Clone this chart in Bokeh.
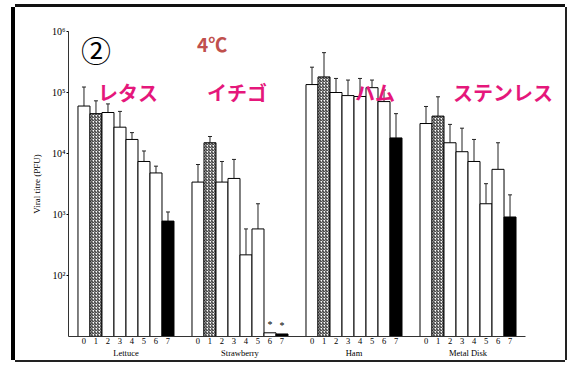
from bokeh.plotting import figure
from bokeh.models import (FactorRange, Range1d, FixedTicker, CustomJSTickFormatter,
                          Whisker, TeeHead, ColumnDataSource, Label)
from bokeh.core.properties import value
from bokeh.embed import file_html
from bokeh.resources import INLINE

groups = ["Lettuce", "Strawberry", "Ham", "Metal Disk"]
days = ["0", "1", "2", "3", "4", "5", "6", "7"]

lettuce = [6.0e4, 4.5e4, 4.7e4, 2.7e4, 1.7e4, 7.4e3, 4.8e3, 780]
lettuce_err = [1.23e5, 7.3e4, 6.5e4, 4.9e4, 2.2e4, 1.1e4, 6.2e3, 1.1e3]
strawberry = [3.4e3, 1.5e4, 3.4e3, 3.9e3, 218, 580, 11.5, 11]
strawberry_err = [6.6e3, 1.9e4, 7.4e3, 8.0e3, 580, 1.5e3, None, None]
ham = [1.35e5, 1.8e5, 1.0e5, 8.9e4, 8.6e4, 1.2e5, 7.1e4, 1.8e4]
ham_err = [2.6e5, 4.5e5, 1.7e5, 1.6e5, 1.7e5, 1.6e5, 1.1e5, 4.5e4]
metal = [3.1e4, 4.1e4, 1.5e4, 1.07e4, 7.4e3, 1.5e3, 5.5e3, 910]
metal_err = [5.9e4, 8.5e4, 3.0e4, 2.6e4, 1.7e4, 3.2e3, 1.5e4, 2.1e3]

ytick_vals = [1e2, 1e3, 1e4, 1e5, 1e6]
ytick_labels = ["10²", "10³", "10⁴", "10⁵", "10⁶"]

jp_labels = ["レタス", "イチゴ", "ハム", "ステンレス"]
star_days = ["6", "7"]

series = [lettuce, strawberry, ham, metal]
errors = [lettuce_err, strawberry_err, ham_err, metal_err]

GROUP_PAD = 1.5
PAD = 0.79

factors = [(g, d) for g in groups for d in days]
# blank spacer factor on the right so that the labels have room inside the frame
spacer = [(" ", " ")]
tops = [v for s in series for v in s]
fills = ["black" if d == "7" else "white" for g in groups for d in days]
hatches = ["/" if d == "1" else " " for g in groups for d in days]

def center(g, d):
    # synthetic coordinate of a nested factor on the FactorRange
    return groups.index(g) * (len(days) + GROUP_PAD) + days.index(d) + 0.5

data_end = len(groups) * len(days) + (len(groups) - 1) * GROUP_PAD

err_x, err_lo, err_hi = [], [], []
for g, s, e in zip(groups, series, errors):
    for d, v, ev in zip(days, s, e):
        if ev is not None:
            err_x.append((g, d))
            err_lo.append(v)
            err_hi.append(ev)

p = figure(x_range=FactorRange(*(factors + spacer), group_padding=GROUP_PAD,
                               range_padding=PAD, range_padding_units="absolute"),
           y_range=Range1d(10, 1e6), y_axis_type="log",
           width=550, height=353, output_backend="svg", toolbar_location=None,
           min_border_left=53, min_border_right=10, min_border_top=24,
           min_border_bottom=23)
p.styles = {"margin-left": "15px", "margin-top": "7px",
            "box-shadow": "-4px 0 0 0 #000000, 0 -3px 0 0 #111111, "
                          "2px 0 0 0 #222222, 0 2px 0 0 #222222"}
p.border_fill_color = "white"
p.background_fill_color = "white"

src = ColumnDataSource(dict(x=factors, top=tops, fill=fills, hatch=hatches))
p.vbar(x="x", top="top", bottom=10, width=1.0, source=src, fill_color="fill",
       line_color="black", line_width=1, hatch_pattern="hatch", hatch_color="black",
       hatch_scale=3, hatch_weight=0.9)

esrc = ColumnDataSource(dict(x=err_x, lo=err_lo, hi=err_hi))
w = Whisker(source=esrc, base="x", lower="lo", upper="hi", dimension="height",
            line_color="#222222", line_width=1, lower_head=None,
            upper_head=TeeHead(size=4, line_color="#222222", line_width=1))
p.add_layout(w)

sx = [("Strawberry", d) for d in star_days]
sy = [strawberry[days.index(d)] for d in star_days]
p.text(x=sx, y=sy, text=["*"] * len(sx), text_align="center", text_baseline="bottom",
       y_offset=-3, text_font=value("Liberation Serif"), text_font_size="10px",
       text_color="black")

anchors = [("Lettuce", "1"), ("Strawberry", "1"), ("Ham", "4"), ("Metal Disk", "2")]
offsets = [2, -3, -5, 3]
for txt, anc, off in zip(jp_labels, anchors, offsets):
    p.add_layout(Label(x=center(*anc), y=1e5, text=txt, x_offset=off, text_align="left",
                       text_baseline="middle", text_font="Noto Sans CJK JP",
                       text_font_style="bold", text_font_size="20px",
                       text_color="#e5177b"))

p.add_layout(Label(x=center("Lettuce", "0"), y=5.2e5, text="②", x_offset=-3,
                   text_align="left", text_baseline="middle",
                   text_font="Noto Sans CJK JP", text_font_size="30px",
                   text_color="black"))
p.add_layout(Label(x=center("Strawberry", "0"), y=6.3e5, text="4℃", x_offset=-1,
                   text_align="left", text_baseline="middle",
                   text_font="Noto Sans CJK JP", text_font_style="bold",
                   text_font_size="19px", text_color="#c0504d"))

p.xgrid.grid_line_color = None
p.ygrid.grid_line_color = None
p.outline_line_color = None

ya = p.yaxis[0]
ya.ticker = FixedTicker(ticks=ytick_vals)
ya.formatter = CustomJSTickFormatter(args=dict(vals=ytick_vals, labs=ytick_labels), code="""
const i = vals.findIndex(v => Math.abs(v - tick) < 1e-6 * v);
return i >= 0 ? labs[i] : '';
""")
ya.minor_tick_line_color = None
ya.major_tick_out = 2
ya.major_tick_in = 0
ya.major_label_standoff = 1
ya.major_label_text_font = "Liberation Serif"
ya.major_label_text_font_size = "10px"
ya.major_label_text_color = "black"
ya.axis_label = "Viral titre (PFU)"
ya.axis_label_text_font = "Liberation Serif"
ya.axis_label_text_font_style = "normal"
ya.axis_label_text_font_size = "9px"
ya.axis_label_text_color = "black"
ya.axis_label_standoff = 7
ya.axis_line_color = "#333333"

xa = p.xaxis[0]
xa.bounds = (-PAD, data_end + PAD)
xa.major_tick_line_color = None
xa.major_tick_out = 0
xa.major_tick_in = 0
xa.major_label_standoff = 1
xa.major_label_text_font = "Liberation Serif"
xa.major_label_text_font_size = "8.5px"
xa.major_label_text_color = "black"
xa.group_text_font = "Liberation Serif"
xa.group_text_font_size = "8.5px"
xa.group_text_font_style = "normal"
xa.group_text_color = "black"
xa.separator_line_color = None
xa.axis_line_color = "#333333"

open("out.html", "w").write(file_html(p, INLINE))
